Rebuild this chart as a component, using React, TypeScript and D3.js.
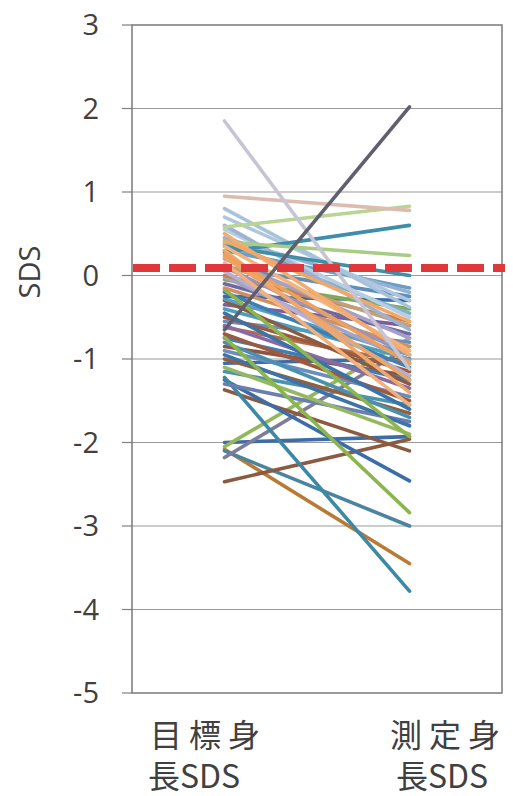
import React from "react";
import * as d3 from "d3";

const categories = ["目標身長SDS", "測定身長SDS"];
const yTicks = [3, 2, 1, 0, -1, -2, -3, -4, -5];
const referenceLine = 0.09;

const targetSDS = [
  -2.0, -2.08, -2.1, -2.18, -2.05, -2.47, -1.37, -1.25, -1.22, -1.3,
  -1.15, -1.1, -1.05, -1.0, -0.95, -0.9, -0.85, -0.8, -0.75, -0.74,
  -0.7, -0.62, -0.6, -0.55, -0.5, -0.45, -0.4, -0.35, -0.3, -0.28,
  -0.25, -0.2, -0.17, -0.15, -0.1, -0.05, -0.02, 0.0, 0.05, 0.1,
  0.1, 0.12, 0.2, 0.22, 0.38, 0.3, 0.45, 0.55, 0.6, 0.7,
  0.8, 0.28, 0.4, 0.35, 0.58, 0.95, 0.15, 0.3, 0.25, 0.35,
  0.5, 0.42, 1.85, -0.65,
];
const measuredSDS = [
  -1.93, -3.45, -3.0, -0.85, -0.75, -1.96, -2.1, -2.46, -3.78, -1.75,
  -1.55, -1.9, -1.0, -1.65, -1.8, -1.45, -1.2, -1.7, -1.25, -2.84,
  -1.5, -1.05, -1.35, -0.8, -1.15, -1.6, -1.0, -0.6, -1.3, -0.95,
  -0.3, -1.1, -1.93, -0.85, -0.7, -0.4, -1.02, -0.55, -1.2, -0.95,
  -0.25, -0.6, -0.75, -1.25, -0.45, -0.15, -0.2, -0.5, -0.65, -0.3,
  -0.38, 0.6, 0.24, 0.0, 0.83, 0.78, -1.55, -1.4, -1.05, -0.9,
  -0.95, -0.55, -1.12, 2.02,
];
const lineColors = [
  "#3b6ea8", "#b97a35", "#4a85a0", "#7d7d98", "#93b85a", "#8b5a40", "#8b5a40", "#3b6ea8", "#3c88a5", "#6a7fb0",
  "#4c93ad", "#97b862", "#3b6fa6", "#92603e", "#3e72aa", "#6a8fbf", "#8c5640", "#4b8fb0", "#3f7eb2", "#8cb54e",
  "#a0583e", "#b06f48", "#8a6aa5", "#6b8cc0", "#9d5b3d", "#3b72a8", "#4aa0bc", "#7a5fa0", "#8a5a44", "#5a9ec0",
  "#3a6ea5", "#3e7fb5", "#8cb54e", "#d09060", "#6e6aa0", "#7eab52", "#a6a2c6", "#c88050", "#b3b0d4", "#9894bc",
  "#5d8fb8", "#c4a078", "#a4a0c8", "#efa464", "#7fb0c8", "#6a9fc0", "#92b1d4", "#b8cde2", "#9cb2cf", "#aec6e0",
  "#a7c3dc", "#3d8dab", "#a8cc84", "#3f8fa9", "#b9d591", "#dcbcae", "#f4b07a", "#f0a86a", "#eda05c", "#f5b27a",
  "#f3ab6e", "#f2a766", "#c5c5d5", "#5f5f70",
];

const W = 513;
const H = 796;
const left = 132;
const right = 502;
const top = 25;
const bottom = 693;

export default function App() {
  const y = d3.scaleLinear().domain([-5, 3]).range([bottom, top]);
  const x = d3.scaleBand().domain(categories).range([left, right]);
  const cx = (c: string) => (x(c) as number) + x.bandwidth() / 2;
  const line = d3
    .line<[string, number]>()
    .x((d) => cx(d[0]))
    .y((d) => y(d[1]));

  const tickFont = "'Open Sans', 'Noto Sans', sans-serif";
  const cjkFont = "'Noto Sans CJK JP', 'Noto Sans', sans-serif";

  return (
    <svg
      width={W}
      height={H}
      style={{ position: "absolute", left: 0, top: 0, background: "#fff" }}
    >
      <rect x={0} y={0} width={W} height={H} fill="#fff" />
      {yTicks
        .filter((t) => t !== 3 && t !== -5)
        .map((t) => (
          <line key={"g" + t} x1={left} x2={right} y1={y(t)} y2={y(t)} stroke="#9a9a9a" strokeWidth={1.2} />
        ))}
      {yTicks.map((t) => (
        <g key={"t" + t}>
          <line x1={left - 10} x2={left} y1={y(t)} y2={y(t)} stroke="#808080" strokeWidth={1.2} />
          <text
            x={99}
            y={y(t)}
            dy="0.36em"
            textAnchor="end"
            fontFamily={tickFont}
            fontSize={29}
            fill="#404040"
          >
            {t}
          </text>
        </g>
      ))}
      <rect x={left} y={top} width={right - left} height={bottom - top} fill="none" stroke="#7a7a7a" strokeWidth={1.5} />
      {targetSDS.map((t, i) => (
        <path
          key={"l" + i}
          d={line([
            [categories[0], t],
            [categories[1], measuredSDS[i]],
          ]) as string}
          fill="none"
          stroke={lineColors[i]}
          strokeWidth={3.6}
          strokeLinecap="round"
        />
      ))}
      <line
        x1={left + 1}
        x2={right + 3}
        y1={y(referenceLine)}
        y2={y(referenceLine)}
        stroke="#e0383a"
        strokeWidth={8}
        strokeDasharray="27 9"
      />
      <text
        transform={`translate(40, 272) rotate(-90)`}
        textAnchor="middle"
        fontFamily={tickFont}
        fontSize={29}
        fill="#404040"
      >
        SDS
      </text>
      <g fontFamily={cjkFont} fontSize={32} fill="#404040">
        <text>
          <tspan x={150} y={747} letterSpacing={7}>目標身</tspan>
          <tspan x={148} y={788}>長SDS</tspan>
        </text>
        <text>
          <tspan x={390} y={747} letterSpacing={7}>測定身</tspan>
          <tspan x={396} y={788}>長SDS</tspan>
        </text>
      </g>
    </svg>
  );
}
